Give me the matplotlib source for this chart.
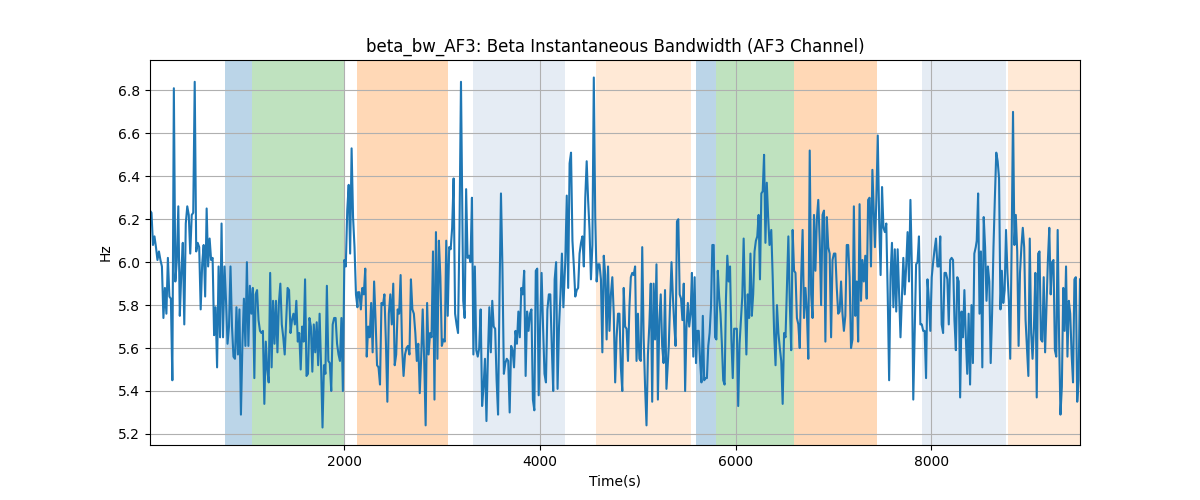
import numpy as np
import matplotlib
matplotlib.use('Agg')
import matplotlib.pyplot as plt

# Beta bandwidth AF3 (Hz), dibaca dari gambar per potongan waktu
bw_seg1 = [6.24, 6.23, 6.08, 6.12, 6.07, 6.01, 6.05, 6.01, 5.98, 5.74,
           5.88, 5.76, 6.02, 5.84, 5.83, 5.45, 6.81, 5.91, 6.01, 6.26,
           5.75, 5.95, 6.09, 5.71, 6.18, 6.26, 6.22, 6.04, 6.22, 6.23,
           6.84, 6.05, 6.09, 6.07, 5.78, 5.99, 6.08, 5.84, 6.25, 5.98,
           6.11, 6.01, 6.02, 5.66, 5.79, 5.51, 5.98, 5.65, 6.18, 5.65,
           5.98, 5.82, 5.62, 5.70, 5.98, 5.70, 5.56, 5.55, 5.79, 5.57,
           5.78, 5.29, 5.62, 5.83, 5.61, 6.00, 5.61, 5.89, 5.76, 5.88, 5.46]
bw_seg2 = [5.85, 5.87, 5.73, 5.68, 5.67, 5.68, 5.34, 5.63, 5.50, 5.44,
           5.95, 5.51, 5.82, 5.62, 5.82, 5.58, 5.81, 5.90, 5.71, 5.65,
           5.57, 5.73, 5.88, 5.87, 5.67, 5.73, 5.76, 5.71, 5.82, 5.63,
           5.67, 5.50, 5.70, 5.63, 5.92, 5.47, 5.48, 5.74, 5.70, 5.49,
           5.71, 5.58, 5.72, 5.52, 5.76, 5.52, 5.23, 5.52, 5.48, 5.89,
           5.54, 5.53, 5.40, 5.71, 5.74, 5.74, 5.62, 5.57, 5.54, 5.74,
           5.40, 6.01, 5.98, 6.24, 6.36, 6.04, 6.53, 6.21, 6.07, 5.85, 5.79]
bw_seg3 = [5.86, 5.86, 5.78, 5.88, 5.85, 5.97, 5.56, 5.70, 5.65, 5.81,
           5.58, 5.91, 5.73, 5.52, 5.51, 5.43, 5.81, 5.80, 5.85, 5.63,
           5.35, 5.76, 5.85, 5.71, 5.90, 5.52, 5.57, 5.78, 5.76, 5.94,
           5.60, 5.47, 5.57, 5.60, 5.61, 5.57, 5.92, 5.78, 5.76, 5.67,
           5.54, 5.62, 5.39, 5.56, 5.78, 5.55, 5.24, 5.81, 5.57, 5.67,
           5.65, 6.05, 5.36, 6.14, 5.55, 6.10, 5.93, 5.61, 5.64, 5.63,
           6.10, 5.75, 6.07, 6.06, 6.16, 6.39, 5.76, 5.71, 5.67, 6.16, 6.84]
bw_seg4 = [5.82, 5.74, 6.34, 6.02, 6.03, 6.00, 6.30, 5.57, 5.98, 5.59,
           5.56, 5.60, 5.78, 5.33, 5.42, 5.55, 5.26, 5.56, 5.79, 5.58,
           5.82, 5.70, 5.69, 5.45, 5.29, 5.85, 6.32, 5.98, 5.48, 5.53,
           5.55, 5.54, 5.30, 5.61, 5.59, 5.51, 5.68, 5.62, 5.77, 5.65,
           5.88, 5.85, 5.96, 5.47, 5.77, 5.68, 5.76, 5.78, 5.36, 5.31,
           5.96, 5.97, 5.38, 5.71, 5.95, 5.70, 5.48, 5.44, 5.78, 5.85,
           5.85, 5.61, 5.40, 5.92, 6.00, 5.41, 5.70, 5.85, 6.04, 5.79]
bw_seg5 = [6.01, 6.31, 5.88, 6.46, 6.51, 6.10, 5.98, 5.84, 5.87, 5.88,
           6.04, 6.09, 6.12, 5.98, 6.30, 6.47, 6.29, 6.15, 5.92, 6.08,
           6.86, 6.21, 5.91, 5.99, 5.99, 5.92, 5.58, 6.03, 5.94, 5.64,
           5.98, 5.68, 5.85, 5.93, 5.76, 5.44, 5.65, 5.76, 5.76, 5.51,
           5.40, 5.88, 5.70, 5.69, 5.54, 5.79, 5.93, 5.95, 5.94, 5.98,
           5.54, 5.76, 5.55, 5.54, 6.07, 5.65, 5.42, 5.24, 5.57, 5.71,
           5.90, 5.35, 5.90, 5.64, 5.99, 5.36, 5.73, 5.85, 5.61, 5.53, 5.87, 5.41]
bw_seg6 = [5.61, 5.82, 6.00, 5.84, 5.71, 5.61, 6.19, 6.20, 5.85, 5.83,
           5.73, 5.90, 5.40, 5.70, 5.81, 5.70, 5.76, 5.95, 5.56, 5.93,
           5.53, 5.68, 5.68, 5.54, 5.44, 5.75, 5.45, 5.46, 5.46, 5.61,
           5.67, 5.79, 6.08, 6.08, 5.65, 5.64, 5.96, 5.84, 5.76, 5.62,
           5.45, 5.43, 5.83, 6.03, 5.91, 5.98, 5.64, 5.46, 5.69, 5.69,
           5.69, 5.33, 5.62, 5.73, 5.84, 6.11, 5.82, 5.57, 5.85, 5.74,
           6.04, 5.75, 5.85, 6.05, 6.10, 6.12, 6.22, 5.92, 6.32, 6.33,
           6.50, 6.09, 6.37, 6.21, 6.08]
bw_seg7 = [6.15, 5.93, 5.67, 5.52, 5.80, 5.67, 5.60, 5.54, 5.34, 5.67,
           5.65, 5.88, 6.12, 5.81, 5.59, 6.15, 5.96, 5.95, 5.74, 5.71,
           5.60, 5.93, 6.15, 5.74, 5.88, 5.77, 5.55, 6.52, 5.85, 5.74,
           6.22, 5.96, 6.20, 6.29, 6.10, 5.80, 6.22, 6.24, 5.63, 6.21,
           6.07, 6.04, 5.65, 6.01, 6.04, 6.04, 5.88, 5.76, 5.77, 5.91,
           5.76, 5.68, 5.75, 6.08, 6.08, 5.93, 5.60, 5.64, 6.26, 5.75,
           5.91, 5.63, 6.27, 5.82, 6.01, 5.91, 6.03, 5.83, 6.29, 6.30, 5.98, 6.43]
bw_seg8 = [6.07, 6.29, 6.59, 6.19, 5.94, 6.35, 6.16, 6.14, 6.18, 5.85,
           5.45, 5.94, 6.09, 5.79, 6.06, 5.77, 6.06, 5.85, 5.65, 5.83,
           6.02, 5.85, 5.98, 6.14, 5.91, 6.29, 5.98, 5.36, 5.68, 5.99,
           6.00, 6.12, 5.71, 5.71, 5.68, 5.68, 5.46, 5.92, 5.82, 5.68,
           5.93, 6.00, 6.06, 6.11, 5.98, 5.98, 6.12, 5.71, 5.67, 5.95,
           5.95, 5.92, 5.71, 6.01, 6.02, 6.01, 5.73, 5.59, 5.93, 5.91,
           5.37, 5.77, 5.65, 5.87, 5.65, 5.48, 5.76, 5.43, 5.80, 5.53, 6.04, 6.07]
bw_seg9 = [6.10, 6.32, 5.76, 6.05, 5.51, 6.21, 6.07, 5.82, 5.98, 5.91,
           5.53, 5.76, 6.07, 6.30, 6.51, 6.47, 6.39, 5.78, 5.96, 5.81,
           5.87, 6.15, 5.95, 5.82, 5.55, 6.07, 6.70, 6.08, 6.22, 6.05,
           5.61, 5.95, 6.07, 6.16, 6.07, 5.73, 5.60, 5.47, 6.11, 5.67,
           5.55, 5.70, 5.95, 5.37, 6.04, 6.05, 5.64, 5.63, 5.93, 5.58,
           5.79, 6.01, 6.16, 5.85, 6.00, 6.01, 5.59, 5.56, 6.15, 5.65,
           5.29, 5.42, 5.88, 5.68, 5.98, 5.56, 5.82, 5.76, 5.57, 5.44,
           5.92, 5.93, 5.35, 5.45, 5.92]

# Waktu awal dan akhir (detik) tiap potongan
seg_t0 = [17, 1096, 2141, 3217, 4260, 5317, 6364, 7423, 8463]
seg_t1 = [1083, 2136, 3194, 4240, 5293, 6346, 7397, 8453, 9518]

# Interval yang diarsir: (mulai, selesai, warna, alpha)
span_start = [784, 1055, 2134, 3320, 4570, 5590, 5797, 6595, 7901, 8783]
span_end = [1055, 2006, 3061, 4257, 5539, 5797, 6595, 7448, 8759, 9518]
span_color = ['tab:blue', 'tab:green', 'tab:orange', 'lightsteelblue', 'tab:orange',
              'tab:blue', 'tab:green', 'tab:orange', 'lightsteelblue', 'tab:orange']
span_alpha = [0.3, 0.3, 0.3, 0.32, 0.17, 0.3, 0.3, 0.3, 0.32, 0.17]

segments = [bw_seg1, bw_seg2, bw_seg3, bw_seg4, bw_seg5, bw_seg6, bw_seg7, bw_seg8, bw_seg9]

# Gabungkan semua potongan jadi satu deret waktu
time = np.concatenate([np.linspace(t0, t1, len(seg)) for t0, t1, seg in zip(seg_t0, seg_t1, segments)])
beta_bw = np.concatenate(segments)

plt.figure(figsize=(12, 5))

# Arsiran interval
for s, e, c, a in zip(span_start, span_end, span_color, span_alpha):
    plt.axvspan(s, e, color=c, alpha=a, linewidth=0)

plt.plot(time, beta_bw, color='tab:blue')
plt.xlim(time[0], time[-1])
plt.title('beta_bw_AF3: Beta Instantaneous Bandwidth (AF3 Channel)')
plt.xlabel('Time(s)')
plt.ylabel('Hz')
plt.grid(True)

plt.savefig('out.png', dpi=100)
